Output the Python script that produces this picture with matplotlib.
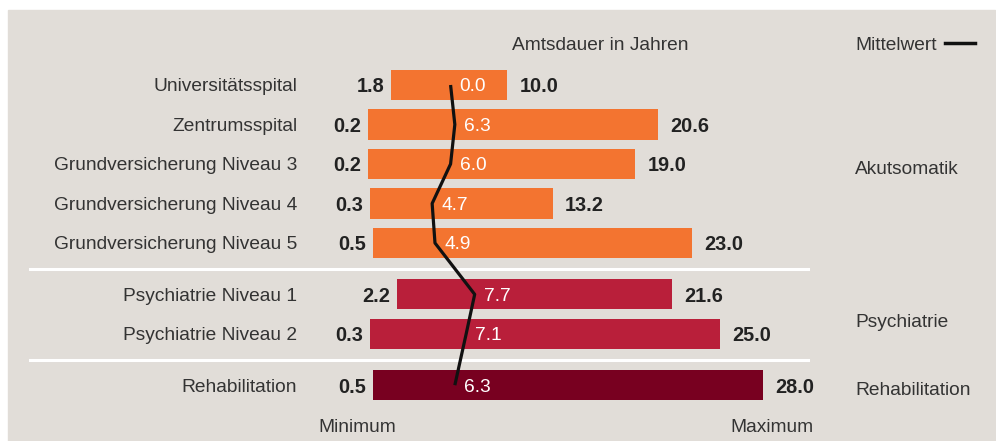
import matplotlib.pyplot as plt
import numpy as np

plt.rcParams["font.family"] = ["Liberation Sans", "DejaVu Sans"]

# data
categories = [
    "Universitätsspital",
    "Zentrumsspital",
    "Grundversicherung Niveau 3",
    "Grundversicherung Niveau 4",
    "Grundversicherung Niveau 5",
    "Psychiatrie Niveau 1",
    "Psychiatrie Niveau 2",
    "Rehabilitation",
]
groups = [0, 0, 0, 0, 0, 1, 1, 2]
group_names = ["Akutsomatik", "Psychiatrie", "Rehabilitation"]
minimum = [1.8, 0.2, 0.2, 0.3, 0.5, 2.2, 0.3, 0.5]
maximum = [10.0, 20.6, 19.0, 13.2, 23.0, 21.6, 25.0, 28.0]
mean_line = [6.0, 6.3, 6.0, 4.7, 4.9, 7.7, 7.1, 6.3]
mean_labels = ["0.0", "6.3", "6.0", "4.7", "4.9", "7.7", "7.1", "6.3"]

group_colors = ["#f37430", "#b91f3a", "#780020"]
bg = "#e1ddd8"
W, H = 996, 441
fs = 13.8

fig = plt.figure(figsize=(W / 100, H / 100), dpi=100)
fig.patch.set_facecolor("white")
ax = fig.add_axes([0, 0, 1, 1])
ax.set_facecolor("none")
ax.axis("off")
ax.add_patch(plt.Rectangle((8 / W, 0), (W - 9) / W, (H - 10) / H,
                           transform=fig.transFigure, color=bg, zorder=0, clip_on=False))

# pixel layout: x=0 years at 365.5 px, 14.18 px per year; rows 39.5 px apart
x0, sx = 365.5, 14.18
y0, sy = 85, 39.5
ax.set_xlim(-x0 / sx, (W - x0) / sx)
ax.set_ylim((H - y0) / sy, -y0 / sy)

gap = 0.3
ypos = np.arange(len(categories)) + gap * np.array(groups)
minimum = np.array(minimum)
maximum = np.array(maximum)
colors = [group_colors[g] for g in groups]

ax.barh(ypos, maximum - minimum, left=minimum, height=0.76, color=colors, zorder=2)
ax.plot(mean_line, ypos, color="#111111", lw=2.3, zorder=3, solid_capstyle="butt")

num_kw = dict(fontsize=14.3, fontweight="bold", color="#222222", va="center_baseline")
for y, cat, lo, hi, m, lab in zip(ypos, categories, minimum, maximum, mean_line, mean_labels):
    ax.text((297 - x0) / sx, y, cat, ha="right", va="center_baseline", fontsize=fs,
            color="#333333")
    ax.annotate(f"{lo:.1f}", (lo, y), xytext=(-5, 0), textcoords="offset points",
                ha="right", **num_kw)
    ax.annotate(f"{hi:.1f}", (hi, y), xytext=(9, 0), textcoords="offset points",
                ha="left", **num_kw)
    ax.annotate(lab, (m, y), xytext=(6.5, 0), textcoords="offset points",
                ha="left", va="center_baseline", fontsize=fs, color="white", zorder=4)

# separators between groups
for g in range(1, len(group_names)):
    idx = groups.index(g)
    ysep = (ypos[idx - 1] + ypos[idx]) / 2
    ax.plot([(30 - x0) / sx, (808 - x0) / sx], [ysep, ysep], color="white", lw=2.2, zorder=1)

# group names on the right
for g, name in enumerate(group_names):
    ys = ypos[np.array(groups) == g]
    ax.text((855 - x0) / sx, ys.mean() + (0.15 if g == 1 else 0.08), name,
            ha="left", va="center_baseline", fontsize=fs, color="#333333")

# headers and footers
fig.text(512 / W, 1 - 43 / H, "Amtsdauer in Jahren", ha="left", va="center_baseline",
         fontsize=fs, color="#333333")
fig.text(855 / W, 1 - 43 / H, "Mittelwert", ha="left", va="center_baseline",
         fontsize=fs, color="#333333")
fig.add_artist(plt.Line2D([945 / W, 975 / W], [1 - 43 / H, 1 - 43 / H],
                          color="#111111", lw=2.5, transform=fig.transFigure))
fig.text(318 / W, 1 - 426 / H, "Minimum", ha="left", va="center_baseline",
         fontsize=fs, color="#333333")
fig.text(730 / W, 1 - 426 / H, "Maximum", ha="left", va="center_baseline",
         fontsize=fs, color="#333333")

fig.savefig("out.png", dpi=100, facecolor=fig.get_facecolor())
